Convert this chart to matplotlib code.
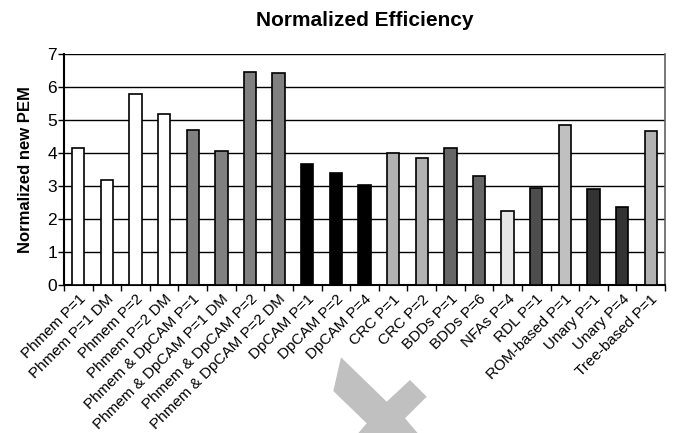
import numpy as np
import matplotlib
matplotlib.use('Agg')
import matplotlib.pyplot as plt
from matplotlib.patches import Polygon

plt.rcParams['font.family'] = ['Liberation Sans', 'DejaVu Sans']

labels = ["Phmem P=1", "Phmem P=1 DM", "Phmem P=2", "Phmem P=2 DM",
          "Phmem & DpCAM P=1", "Phmem & DpCAM P=1 DM", "Phmem & DpCAM P=2",
          "Phmem & DpCAM P=2 DM", "DpCAM P=1", "DpCAM P=2", "DpCAM P=4",
          "CRC P=1", "CRC P=2", "BDDs P=1", "BDDs P=6", "NFAs P=4", "RDL P=1",
          "ROM-based P=1", "Unary P=1", "Unary P=4", "Tree-based P=1"]
values = [4.14, 3.17, 5.79, 5.17, 4.71, 4.05, 6.45, 6.43, 3.66, 3.40, 3.04,
          3.99, 3.85, 4.14, 3.30, 2.25, 2.94, 4.85, 2.90, 2.35, 4.66]
colors = ["#ffffff"] * 4 + ["#808080"] * 4 + ["#000000"] * 3 + \
         ["#b2b2b2", "#b2b2b2", "#666666", "#666666", "#e6e6e6", "#4d4d4d",
          "#c0c0c0", "#333333", "#333333", "#b2b2b2"]

fig = plt.figure(figsize=(6.82, 4.33), dpi=100)
ax = fig.add_axes([64/682, 1-285/433, (665-64)/682, (285-54)/433])

x = np.arange(len(values))
ax.bar(x, values, width=0.43, color=colors, edgecolor='black', linewidth=1.2, zorder=3)

ax.set_xlim(-0.5, len(values) - 0.5)
ax.set_ylim(0, 7)
ax.set_yticks(range(0, 8))
ax.yaxis.grid(True, color='black', linewidth=1.0, zorder=0)
ax.set_axisbelow(True)

# category boundaries get the tick marks, labels sit under the bars
ax.set_xticks(np.arange(-0.5, len(values), 1.0), minor=False)
ax.set_xticklabels([])
ax.set_xticks(x, minor=True)
ax.set_xticklabels(labels, minor=True, rotation=45, ha='right',
                   rotation_mode='anchor', fontsize=11)
ax.tick_params(axis='x', which='minor', length=0, pad=5)
ax.tick_params(axis='x', which='major', length=4, width=1, direction='out')
ax.tick_params(axis='y', length=4, width=1, labelsize=12.5, pad=1)

for s in ['left', 'bottom']:
    ax.spines[s].set_linewidth(1.5)
    ax.spines[s].set_color('black')
ax.spines['top'].set_visible(False)
ax.spines['right'].set_color('#606060')
ax.spines['right'].set_linewidth(1.2)

ax.set_ylabel("Normalized new PEM", fontsize=12, fontweight='bold', labelpad=10)
fig.text(365/682, 1-20/433, "Normalized Efficiency", ha='center', va='center',
         fontsize=15, fontweight='bold')

# grey arrow decoration below the labels
pts = [(341, 357.3), (386.7, 401.7), (410, 380), (426.7, 396.7), (405, 418.3),
       (421, 437), (355, 437), (366.7, 423.3), (333.3, 391)]
poly = Polygon([(px/682, 1-py/433) for px, py in pts], closed=True,
               transform=fig.transFigure, facecolor='#c0c0c0', edgecolor='none')
fig.patches.append(poly)

fig.savefig('out.png', dpi=100)
